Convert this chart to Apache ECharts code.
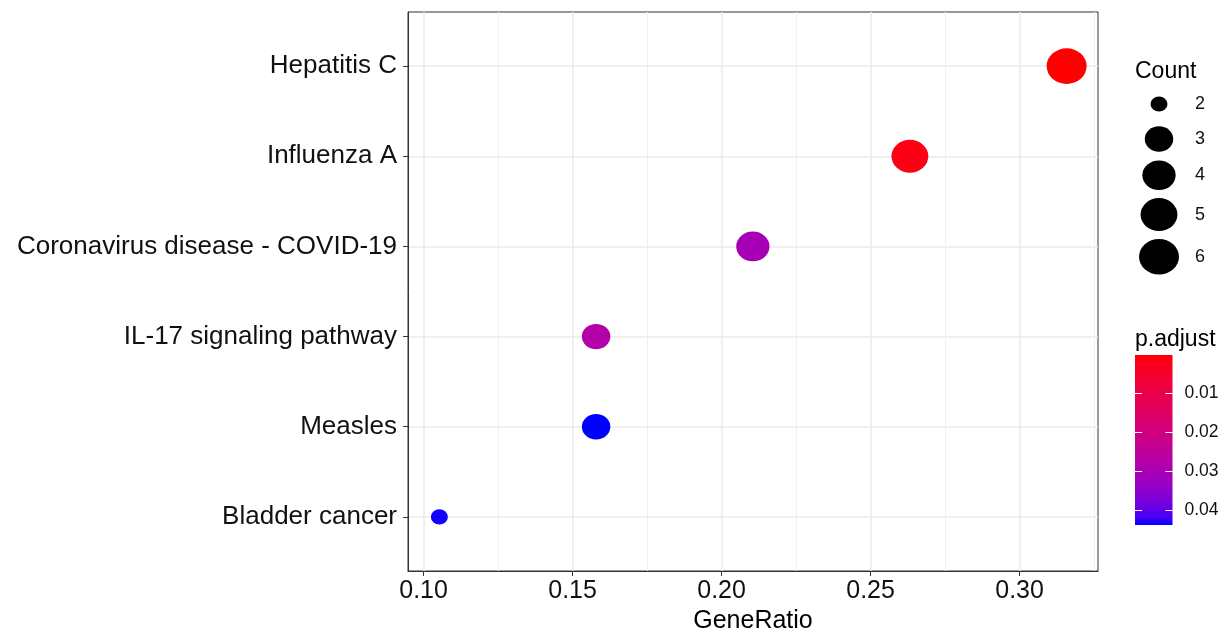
<!DOCTYPE html>
<html>
<head>
<meta charset="utf-8">
<title>KEGG dot plot</title>
<script src="https://cdn.jsdelivr.net/npm/echarts@6/dist/echarts.min.js"></script>
<style>
  html, body { margin: 0; padding: 0; background: #fff; }
  #Chart { width: 1228px; height: 633px; }
</style>
</head>
<body>
<div id="Chart"></div>
<script>
// data (bottom -> top on the y axis)
var terms = ['Bladder cancer', 'Measles', 'IL-17 signaling pathway',
             'Coronavirus disease - COVID-19', 'Influenza A', 'Hepatitis C'];
var geneRatio = [0.1053, 0.1579, 0.1579, 0.2105, 0.2632, 0.3158];
var counts = [2, 3, 3, 4, 5, 6];
var pAdjust = [0.0437, 0.0439, 0.0280, 0.0308, 0.0016, 0.0001];

// tick labels
var xTicks = [0.10, 0.15, 0.20, 0.25, 0.30];
var xMinorTicks = [0.125, 0.175, 0.225, 0.275, 0.325];
var legendCounts = [2, 3, 4, 5, 6];
var pTicks = [0.01, 0.02, 0.03, 0.04];

var FONT = "'Liberation Sans', Arial, sans-serif";
var gMin = Math.min.apply(null, geneRatio), gMax = Math.max.apply(null, geneRatio);
var xMin = gMin - 0.05 * (gMax - gMin), xMax = gMax + 0.05 * (gMax - gMin);
var cMin = Math.min.apply(null, counts), cMax = Math.max.apply(null, counts);
var pMin = Math.min.apply(null, pAdjust), pMax = Math.max.apply(null, pAdjust);

// ggplot-like area scale
function sizeOf(c) {
    return 17 + 23 * Math.sqrt((c - cMin) / (cMax - cMin));
}
var ASPECT = 0.89;

// red -> blue, interpolated in Lab like ggplot
function toLin(c) { c /= 255; return c <= 0.04045 ? c / 12.92 : Math.pow((c + 0.055) / 1.055, 2.4); }
function toSrgb(c) {
    c = Math.max(0, Math.min(1, c));
    return Math.round(255 * (c <= 0.0031308 ? 12.92 * c : 1.055 * Math.pow(c, 1 / 2.4) - 0.055));
}
function rgbToLab(rgb) {
    var r = toLin(rgb[0]), g = toLin(rgb[1]), b = toLin(rgb[2]);
    var x = (0.4124 * r + 0.3576 * g + 0.1805 * b) / 0.95047;
    var y = 0.2126 * r + 0.7152 * g + 0.0722 * b;
    var z = (0.0193 * r + 0.1192 * g + 0.9505 * b) / 1.08883;
    var f = function (t) { return t > 0.008856 ? Math.cbrt(t) : 7.787 * t + 16 / 116; };
    return [116 * f(y) - 16, 500 * (f(x) - f(y)), 200 * (f(y) - f(z))];
}
function labToRgb(lab) {
    var fy = (lab[0] + 16) / 116, fx = fy + lab[1] / 500, fz = fy - lab[2] / 200;
    var finv = function (t) { return t > 0.206893 ? t * t * t : (t - 16 / 116) / 7.787; };
    var x = finv(fx) * 0.95047, y = finv(fy), z = finv(fz) * 1.08883;
    var r = 3.2406 * x - 1.5372 * y - 0.4986 * z;
    var g = -0.9689 * x + 1.8758 * y + 0.0415 * z;
    var b = 0.0557 * x - 0.2040 * y + 1.0570 * z;
    return 'rgb(' + toSrgb(r) + ',' + toSrgb(g) + ',' + toSrgb(b) + ')';
}
var labLow = rgbToLab([255, 0, 0]), labHigh = rgbToLab([0, 0, 255]);
function mixColor(t) {
    return labToRgb([0, 1, 2].map(function (k) { return labLow[k] + (labHigh[k] - labLow[k]) * t; }));
}
function pColor(p) { return mixColor((p - pMin) / (pMax - pMin)); }

// count legend key layout
var keyH = legendCounts.map(function (c) { return Math.max(35, sizeOf(c) * ASPECT + 8); });
var keyCenters = [], acc = 0;
for (var i = 0; i < keyH.length; i++) {
    keyCenters.push(acc + keyH[i] / 2);
    acc += keyH[i];
}
var keyTotal = acc;

var barStops = [];
for (var k = 0; k <= 20; k++) {
    barStops.push({ offset: k / 20, color: mixColor(k / 20) });
}

var myChart = echarts.init(document.getElementById('Chart'));
var option = {
    backgroundColor: '#fff',
    animation: false,
    textStyle: { fontFamily: FONT },
    title: [
        { text: 'Count', left: 1130, top: 55, textStyle: { fontFamily: FONT, fontSize: 23, fontWeight: 'normal', color: '#000' } },
        { text: 'p.adjust', left: 1130, top: 323, textStyle: { fontFamily: FONT, fontSize: 23, fontWeight: 'normal', color: '#000' } }
    ],
    grid: [
        { left: 408, top: 12, width: 690, height: 559, show: true, borderColor: '#333', borderWidth: 1, backgroundColor: '#fff', outerBoundsMode: 'none' },
        { left: 1140, top: 104 - keyCenters[0], width: 38, height: keyTotal, outerBoundsMode: 'none' },
        { left: 1135, top: 355, width: 37.5, height: 170, outerBoundsMode: 'none' }
    ],
    xAxis: [
        {
            gridIndex: 0, type: 'value', min: xMin, max: xMax, position: 'bottom',
            name: 'GeneRatio', nameLocation: 'middle', nameGap: 37,
            nameTextStyle: { fontFamily: FONT, fontSize: 25, color: '#000' },
            axisLine: { show: true, lineStyle: { color: '#333', width: 1 } },
            axisTick: { show: true, customValues: xTicks, length: 5, lineStyle: { color: '#333' } },
            axisLabel: {
                customValues: xTicks, fontSize: 25, color: '#111', margin: 8,
                formatter: function (v) { return v.toFixed(2); }
            },
            splitLine: { show: true, lineStyle: { color: '#EBEBEB', width: 1.6 } }
        },
        {
            gridIndex: 0, type: 'value', min: xMin, max: xMax, position: 'top',
            axisLine: { show: false },
            axisTick: { show: false, customValues: xMinorTicks },
            axisLabel: { show: false, customValues: xMinorTicks },
            splitLine: { show: true, lineStyle: { color: '#F0F0F0', width: 1 } }
        },
        { gridIndex: 1, type: 'value', min: 0, max: 1, show: false },
        { gridIndex: 2, type: 'category', data: ['p.adjust'], show: false }
    ],
    yAxis: [
        {
            gridIndex: 0, type: 'value', min: 0.4, max: terms.length + 0.6,
            axisLine: { show: true, lineStyle: { color: '#333', width: 1 } },
            axisTick: { show: true, customValues: [1, 2, 3, 4, 5, 6], length: 5, lineStyle: { color: '#333' } },
            axisLabel: {
                customValues: [1, 2, 3, 4, 5, 6], fontSize: 26, color: '#111', margin: 11,
                formatter: function (v) { return terms[Math.round(v) - 1]; }
            },
            splitLine: { show: true, lineStyle: { color: '#EBEBEB', width: 1.6 } }
        },
        {
            gridIndex: 1, type: 'value', min: 0, max: keyTotal, inverse: true, position: 'right',
            axisLine: { show: false }, axisTick: { show: false }, splitLine: { show: false },
            axisLabel: {
                customValues: keyCenters, fontSize: 18, color: '#111', margin: 17,
                formatter: function (v) {
                    for (var j = 0; j < keyCenters.length; j++) {
                        if (Math.abs(keyCenters[j] - v) < 0.01) return String(legendCounts[j]);
                    }
                    return '';
                }
            }
        },
        {
            gridIndex: 2, type: 'value', min: pMin, max: pMax, inverse: true, position: 'right', z: 10,
            axisLine: { show: false }, splitLine: { show: false },
            axisTick: { show: true, inside: true, customValues: pTicks, length: 7, lineStyle: { color: '#fff', width: 1 } },
            axisLabel: {
                customValues: pTicks, fontSize: 17.5, color: '#111', margin: 12,
                formatter: function (v) { return v.toFixed(2); }
            }
        },
        {
            gridIndex: 2, type: 'value', min: pMin, max: pMax, inverse: true, position: 'left', z: 10,
            axisLine: { show: false }, splitLine: { show: false },
            axisTick: { show: true, inside: true, customValues: pTicks, length: 7, lineStyle: { color: '#fff', width: 1 } },
            axisLabel: { show: false, customValues: pTicks }
        }
    ],
    series: [
        {
            name: 'terms',
            type: 'scatter',
            xAxisIndex: 0, yAxisIndex: 0,
            data: terms.map(function (t, i) { return [geneRatio[i], i + 1, counts[i], pAdjust[i]]; }),
            symbol: 'circle',
            symbolSize: function (val) { var w = sizeOf(val[2]); return [w, w * ASPECT]; },
            itemStyle: {
                opacity: 1,
                color: function (params) { return pColor(params.data[3]); }
            },
            z: 5
        },
        {
            name: 'Count',
            type: 'scatter',
            xAxisIndex: 2, yAxisIndex: 1,
            data: legendCounts.map(function (c, i) { return [0.5, keyCenters[i], c]; }),
            symbol: 'circle',
            symbolSize: function (val) { var w = sizeOf(val[2]); return [w, w * ASPECT]; },
            itemStyle: { color: '#000', opacity: 1 }
        },
        {
            name: 'p.adjust',
            type: 'bar',
            xAxisIndex: 3, yAxisIndex: 2,
            data: [pMax],
            barWidth: '100%',
            itemStyle: {
                color: new echarts.graphic.LinearGradient(0, 0, 0, 1, barStops)
            }
        }
    ]
};
myChart.setOption(option);
window.addEventListener('resize', function () {
    myChart.resize();
});
</script>
</body>
</html>
